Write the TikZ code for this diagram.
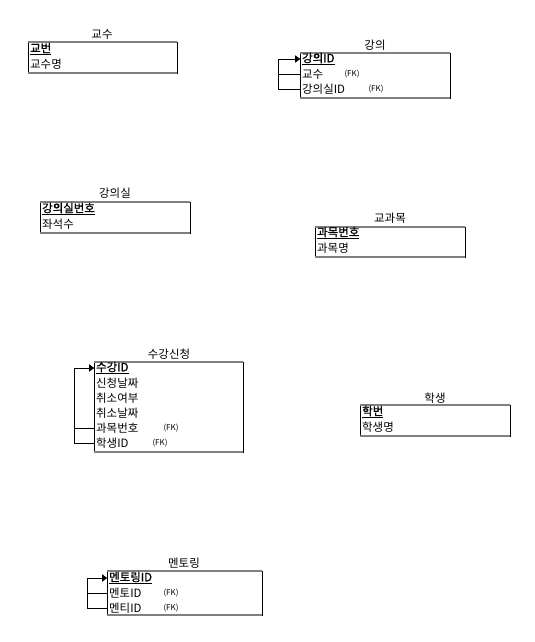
\documentclass[tikz,border=0pt]{standalone}
\usepackage{fontspec}
\setmainfont{Noto Sans CJK KR}
\newfontfamily\pkfont[AutoFakeBold=1.2]{Noto Sans CJK KR}
\usetikzlibrary{arrows.meta}

\begin{document}
\begin{tikzpicture}[x=1bp, y=-1bp,
  every node/.style={inner sep=0pt, font=\fontsize{11.5}{12}\selectfont},
  attr/.style={anchor=west, inner xsep=2bp},
  pk/.style={attr, font=\fontsize{11.5}{12}\selectfont\pkfont\bfseries},
  fk/.style={font=\fontsize{8}{9}\selectfont},
  ebox/.style={draw=black, line width=0.7bp},
  edge/.style={draw=gray, line width=1.6bp},
  rel/.style={line width=0.8bp, -{Triangle[length=5bp, width=7bp]}}]
\useasboundingbox (0,0) rectangle (535,642);

% 교수
\node (profT) at (102,34) {교수};
\draw[ebox] (28,42) rectangle (177,73);
\draw[edge] (28,42) -- (177,42); \draw[edge] (28,73) -- (177,73);
\node[pk] (prof1) at (28,49) {\underline{교번}};
\node[attr] (prof2) at (28,64) {교수명};

% 강의
\node (lecT) at (375,45) {강의};
\draw[ebox] (300,53) rectangle (450,98);
\draw[edge] (300,53) -- (450,53); \draw[edge] (300,98) -- (450,98);
\node[pk] (lec1) at (300,59) {\underline{강의ID}};
\node[attr] (lec2) at (300,74) {교수};
\node[attr] (lec3) at (300,89) {강의실ID};
\node[fk] (lec2fk) at (352,74) {(FK)};
\node[fk] (lec3fk) at (376,89) {(FK)};
\draw[rel] (lec2.west) -- ++(-22,0) |- (lec1.west);
\draw[rel] (lec3.west) -- ++(-22,0) |- (lec1.west);

% 강의실
\node (roomT) at (115,193) {강의실};
\draw[ebox] (40,202) rectangle (190,233);
\draw[edge] (40,202) -- (190,202); \draw[edge] (40,233) -- (190,233);
\node[pk] (room1) at (40,209) {\underline{강의실번호}};
\node[attr] (room2) at (40,224) {좌석수};

% 교과목
\node (subjT) at (390,218) {교과목};
\draw[ebox] (315,227) rectangle (465,257);
\draw[edge] (315,227) -- (465,227); \draw[edge] (315,257) -- (465,257);
\node[pk] (subj1) at (315,233) {\underline{과목번호}};
\node[attr] (subj2) at (315,248) {과목명};

% 수강신청
\node (enrT) at (169,354) {수강신청};
\draw[ebox] (94,362) rectangle (243,452);
\draw[edge] (94,362) -- (243,362); \draw[edge] (94,452) -- (243,452);
\node[pk] (enr1) at (94,368) {\underline{수강ID}};
\node[attr] (enr2) at (94,383) {신청날짜};
\node[attr] (enr3) at (94,398) {취소여부};
\node[attr] (enr4) at (94,413) {취소날짜};
\node[attr] (enr5) at (94,428) {과목번호};
\node[attr] (enr6) at (94,443) {학생ID};
\node[fk] (enr5fk) at (171,428) {(FK)};
\node[fk] (enr6fk) at (160,443) {(FK)};
\draw[rel] (enr5.west) -- ++(-20,0) |- (enr1.west);
\draw[rel] (enr6.west) -- ++(-20,0) |- (enr1.west);

% 학생
\node (stuT) at (435,398) {학생};
\draw[ebox] (360,405) rectangle (510,436);
\draw[edge] (360,405) -- (510,405); \draw[edge] (360,436) -- (510,436);
\node[pk] (stu1) at (360,412) {\underline{학번}};
\node[attr] (stu2) at (360,427) {학생명};

% 멘토링
\node (mentT) at (184,563) {멘토링};
\draw[ebox] (107,571) rectangle (262,615);
\draw[edge] (107,571) -- (262,571); \draw[edge] (107,615) -- (262,615);
\node[pk] (ment1) at (107,578) {\underline{멘토링ID}};
\node[attr] (ment2) at (107,593) {멘토ID};
\node[attr] (ment3) at (107,608) {멘티ID};
\node[fk] (ment2fk) at (171,593) {(FK)};
\node[fk] (ment3fk) at (171,608) {(FK)};
\draw[rel] (ment2.west) -- ++(-20,0) |- (ment1.west);
\draw[rel] (ment3.west) -- ++(-20,0) |- (ment1.west);
\end{tikzpicture}
\end{document}
